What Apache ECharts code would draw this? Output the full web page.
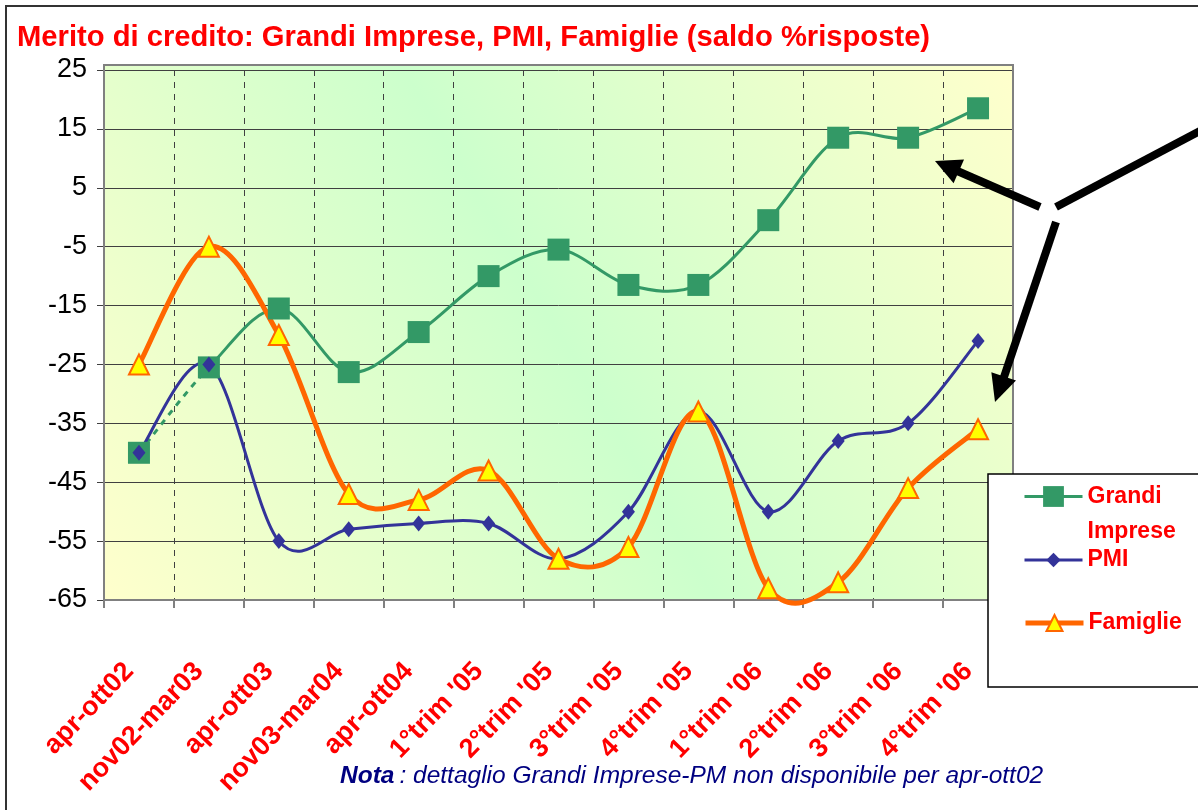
<!DOCTYPE html>
<html>
<head>
<meta charset="utf-8">
<script src="https://cdn.jsdelivr.net/npm/echarts@6/dist/echarts.min.js"></script>
<style>
html,body{margin:0;padding:0;background:#fff;}
#c{width:1198px;height:810px;}
</style>
</head>
<body>
<div id="c"></div>
<script>
var categories = ['apr-ott02','nov02-mar03','apr-ott03','nov03-mar04','apr-ott04',"1°trim '05","2°trim '05","3°trim '05","4°trim '05","1°trim '06","2°trim '06","3°trim '06","4°trim '06"];
var grandiImprese = [-40, -25.5, -15.5, -26.3, -19.5, -10, -5.5, -11.5, -11.5, -0.5, 13.5, 13.5, 18.5];
var pmi = [-40, -25, -55, -53, -52, -52, -58, -50, -33, -50, -38, -35, -21];
var famiglie = [-25, -5, -20, -47, -48, -43, -58, -56, -33, -63, -62, -46, -36];
var yMin = -65, yMax = 25, yStep = 10;

var FONT = 'Liberation Sans, Arial, sans-serif';
var RED = '#ff0000';
var GREEN = '#339966', NAVY = '#333399', ORANGE = '#ff6600';

function pairs(arr){ return arr.map(function(v, i){ return [i, v]; }); }

// Excel-like smoothed curve (Catmull-Rom, 1/6 tangents) drawn through axis coordinates
function curveRenderer(color, width, dashedUpTo) {
  return function(params, api) {
    if (params.dataIndexInside !== 0) return null;
    var n = params.dataInsideLength, pts = [];
    for (var i = 0; i < n; i++) pts.push(api.coord([api.value(0, i), api.value(1, i)]));
    var children = [];
    for (var k = 0; k < n - 1; k++) {
      var p0 = pts[k - 1] || pts[k], p1 = pts[k], p2 = pts[k + 1], p3 = pts[k + 2] || pts[k + 1];
      var dashed = dashedUpTo != null && k < dashedUpTo;
      children.push({
        type: 'bezierCurve',
        shape: {
          x1: p1[0], y1: p1[1], x2: p2[0], y2: p2[1],
          cpx1: p1[0] + (p2[0] - p0[0]) / 6, cpy1: p1[1] + (p2[1] - p0[1]) / 6,
          cpx2: p2[0] - (p3[0] - p1[0]) / 6, cpy2: p2[1] - (p3[1] - p1[1]) / 6
        },
        style: {stroke: color, lineWidth: width, fill: 'none', lineCap: dashed ? 'butt' : 'round',
                lineDash: dashed ? [6, 6] : null}
      });
    }
    return {type: 'group', children: children};
  };
}

var chart = echarts.init(document.getElementById('c'), null, {renderer: 'canvas'});

function arrowHead(tip, from, len, half) {
  var dx = tip[0]-from[0], dy = tip[1]-from[1];
  var L = Math.sqrt(dx*dx+dy*dy); var ux = dx/L, uy = dy/L;
  var bx = tip[0]-len*ux, by = tip[1]-len*uy;
  var nx = -uy, ny = ux;
  return [[tip[0],tip[1]],[bx+half*nx, by+half*ny],[bx-half*nx, by-half*ny]];
}

var legendText = {color: RED, fontWeight: 'bold', fontSize: 23, fontFamily: FONT};

var option = {
  animation: false,
  backgroundColor: '#ffffff',
  title: [{
    text: 'Merito di credito: Grandi Imprese, PMI, Famiglie (saldo %risposte)',
    left: 17, top: 23, padding: 0,
    textStyle: {color: RED, fontWeight: 'bold', fontSize: 29.2, fontFamily: FONT}
  }, {
    text: '{b|Nota} {i|: dettaglio Grandi Imprese-PM non disponibile per apr-ott02}',
    left: 340, top: 764, padding: 0,
    textStyle: {
      fontWeight: 'normal',
      rich: {
        b: {color: '#000080', fontWeight: 'bold', fontStyle: 'italic', fontSize: 24.5, fontFamily: FONT},
        i: {color: '#000080', fontWeight: 'normal', fontStyle: 'italic', fontSize: 24.5, fontFamily: FONT}
      }
    }
  }],
  legend: [{
    data: ['Grandi Imprese'], left: 1023, top: 444, padding: 0, selectedMode: false,
    itemWidth: 58, itemHeight: 26,
    lineStyle: {color: GREEN, width: 3, opacity: 1, type: 'solid'},
    formatter: function(){ return '\nGrandi\nImprese'; },
    textStyle: Object.assign({lineHeight: 35}, legendText)
  }, {
    data: ['PMI'], left: 1023, top: 547, padding: 0, selectedMode: false,
    itemWidth: 58, itemHeight: 18,
    lineStyle: {color: NAVY, width: 3, opacity: 1, type: 'solid'},
    textStyle: Object.assign({lineHeight: 26}, legendText)
  }, {
    data: ['Famiglie'], left: 1023, top: 610, padding: 0, selectedMode: false,
    itemWidth: 58, itemHeight: 20,
    lineStyle: {color: ORANGE, width: 5, opacity: 1, type: 'solid'},
    textStyle: Object.assign({lineHeight: 26}, legendText)
  }],
  grid: {left: 104, right: 185, top: 70, bottom: 210, containLabel: false},
  xAxis: {
    type: 'category', data: categories, boundaryGap: true,
    axisLine: {show: true, onZero: false, lineStyle: {color: '#808080', width: 2}},
    axisTick: {show: true, interval: 0, length: 8, lineStyle: {color: '#808080', width: 2}},
    splitLine: {show: true, interval: 0, lineStyle: {color: '#404040', width: 1, type: [6,6]}},
    axisLabel: {
      interval: 0, rotate: 46, margin: 57, padding: [0,14,0,0],
      color: RED, fontWeight: 'bold', fontSize: 27, fontFamily: FONT
    }
  },
  yAxis: {
    type: 'value', min: yMin, max: yMax, interval: yStep,
    axisLine: {show: true, lineStyle: {color: '#808080', width: 2}},
    axisTick: {show: true, length: 7, lineStyle: {color: '#404040', width: 1}},
    splitLine: {show: true, lineStyle: {color: '#404040', width: 1}},
    axisLabel: {color: '#000', fontSize: 27, fontFamily: FONT, margin: 17}
  },
  series: [{
    name: 'curve-gi', type: 'custom', data: pairs(grandiImprese), clip: false,
    encode: {x: 0, y: 1}, renderItem: curveRenderer(GREEN, 3, 1)
  }, {
    name: 'Grandi Imprese', type: 'line', data: grandiImprese,
    symbol: 'rect', symbolSize: [22, 22], showAllSymbol: true,
    lineStyle: {width: 0, opacity: 0},
    itemStyle: {color: GREEN}
  }, {
    name: 'curve-pmi', type: 'custom', data: pairs(pmi), clip: false,
    encode: {x: 0, y: 1}, renderItem: curveRenderer(NAVY, 3, null)
  }, {
    name: 'PMI', type: 'line', data: pmi,
    symbol: 'diamond', symbolSize: [13, 16], showAllSymbol: true,
    lineStyle: {width: 0, opacity: 0},
    itemStyle: {color: NAVY}
  }, {
    name: 'curve-fam', type: 'custom', data: pairs(famiglie), clip: false,
    encode: {x: 0, y: 1}, renderItem: curveRenderer(ORANGE, 5, null)
  }, {
    name: 'Famiglie', type: 'line', data: famiglie,
    symbol: 'triangle', symbolSize: [20, 20], showAllSymbol: true,
    lineStyle: {width: 0, opacity: 0},
    itemStyle: {color: '#ffff00', borderColor: ORANGE, borderWidth: 2}
  }],
  graphic: {elements: [
    {type: 'rect', z: -10, shape: {x: 104, y: 65, width: 909, height: 535},
     style: {fill: new echarts.graphic.LinearGradient(0, 1, 1, 0, [
       {offset: 0, color: '#ffffcc'}, {offset: 0.5, color: '#ccffcc'}, {offset: 1, color: '#ffffcc'}])}},
    {type: 'rect', z: 1, shape: {x: 104, y: 65, width: 909, height: 535},
     style: {fill: 'none', stroke: '#808080', lineWidth: 2}},
    {type: 'rect', z: 3, shape: {x: 988, y: 474, width: 260, height: 213},
     style: {fill: '#ffffff', stroke: '#000000', lineWidth: 1.5}},
    {type: 'rect', z: 10, shape: {x: 6, y: 6, width: 1400, height: 1000},
     style: {fill: 'none', stroke: '#333333', lineWidth: 2}},
    {type: 'line', z: 10, shape: {x1: 1040, y1: 207, x2: 955, y2: 170},
     style: {stroke: '#000', lineWidth: 8}},
    {type: 'polygon', z: 10, shape: {points: arrowHead([935,161],[1040,207],26,13)}, style: {fill: '#000'}},
    {type: 'line', z: 10, shape: {x1: 1056, y1: 222, x2: 1003, y2: 380},
     style: {stroke: '#000', lineWidth: 8}},
    {type: 'polygon', z: 10, shape: {points: arrowHead([995,402],[1056,222],27,13)}, style: {fill: '#000'}},
    {type: 'line', z: 10, shape: {x1: 1056, y1: 207, x2: 1215, y2: 123},
     style: {stroke: '#000', lineWidth: 8}}
  ]}
};
chart.setOption(option);
</script>
</body>
</html>
